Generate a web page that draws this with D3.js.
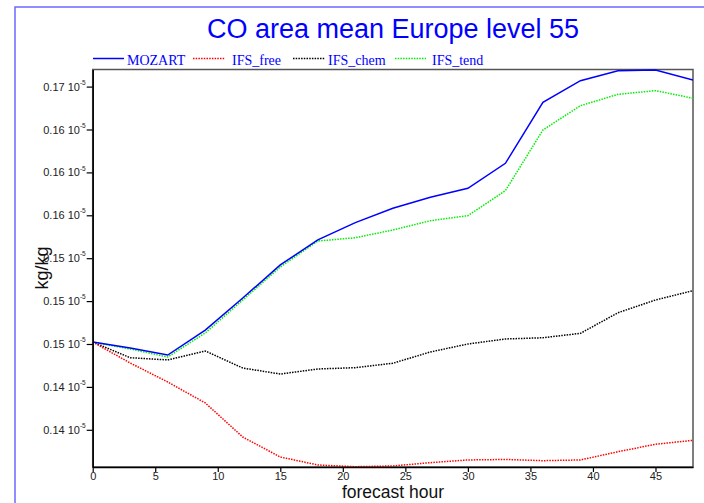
<!DOCTYPE html>
<html>
<head>
<meta charset="utf-8">
<script src="https://cdn.jsdelivr.net/npm/d3@7"></script>
<style>
  body { margin: 0; background: #fff; }
  svg { display: block; }
</style>
</head>
<body>
<svg id="chart" width="704" height="503"></svg>
<script>
// ---- data (values in units of 10^-5 kg/kg) ----
const hours = [0, 3, 6, 9, 12, 15, 18, 21, 24, 27, 30, 33, 36, 39, 42, 45, 48];
const seriesNames = ["MOZART", "IFS_free", "IFS_chem", "IFS_tend"];
const mozart   = [0.14716, 0.14667, 0.14610, 0.14814, 0.15075, 0.15345, 0.15549, 0.15690, 0.15807, 0.15897, 0.15970, 0.16174, 0.16672, 0.16848, 0.16930, 0.16936, 0.16854];
const ifsFree  = [0.14716, 0.14545, 0.14390, 0.14219, 0.13941, 0.13778, 0.13713, 0.13699, 0.13705, 0.13732, 0.13754, 0.13758, 0.13748, 0.13754, 0.13821, 0.13882, 0.13914];
const ifsChem  = [0.14716, 0.14588, 0.14570, 0.14643, 0.14504, 0.14455, 0.14496, 0.14507, 0.14543, 0.14635, 0.14700, 0.14741, 0.14751, 0.14787, 0.14955, 0.15059, 0.15135];
const ifsTend  = [0.14716, 0.14659, 0.14594, 0.14790, 0.15059, 0.15328, 0.15540, 0.15567, 0.15630, 0.15706, 0.15747, 0.15951, 0.16446, 0.16644, 0.16737, 0.16767, 0.16705];
const xTickValues = [0, 5, 10, 15, 20, 25, 30, 35, 40, 45];
const yTickValues = [0.1400, 0.1435, 0.1470, 0.1505, 0.1540, 0.1575, 0.1610, 0.1645, 0.1680];
const yTickLabels = ["0.14", "0.14", "0.15", "0.15", "0.15", "0.16", "0.16", "0.16", "0.17"];
const yExponent = "-5";
const titleText = "CO area mean Europe level 55";
const xTitle = "forecast hour";
const yTitle = "kg/kg";

// ---- layout / style ----
const plot = { left: 92.7, right: 693, top: 69.5, bottom: 467 };
const styles = {
  MOZART:   { color: "#0000ff", dash: null,  width: 1.5 },
  IFS_free: { color: "#ff0000", dash: "1.5,1.2", width: 1.5 },
  IFS_chem: { color: "#000000", dash: "1.5,1.2", width: 1.5 },
  IFS_tend: { color: "#00ee00", dash: "1.5,1.2", width: 1.5 }
};
const legendPos = [
  { x1: 93,  x2: 124, tx: 127 },
  { x1: 193, x2: 225, tx: 232 },
  { x1: 293, x2: 325, tx: 328 },
  { x1: 395, x2: 426, tx: 432 }
];

const svg = d3.select("#chart");
const valuesBySeries = [mozart, ifsFree, ifsChem, ifsTend];

const x = d3.scaleLinear().domain([0, 48]).range([plot.left, plot.right]);
const y = d3.scaleLinear().domain([0.136965, 0.169395]).range([plot.bottom, plot.top]);

// outer blue border
svg.append("rect")
  .attr("x", 15).attr("y", 7)
  .attr("width", 720).attr("height", 520)
  .attr("fill", "none")
  .attr("stroke", "#6a6aff")
  .attr("stroke-width", 1.5);

// title
svg.append("text")
  .attr("x", 393).attr("y", 38)
  .attr("text-anchor", "middle")
  .attr("font-family", "Liberation Sans, Arial, sans-serif")
  .attr("font-size", 27)
  .attr("fill", "#0000ff")
  .text(titleText);

// legend
seriesNames.forEach((name, i) => {
  const s = styles[name], p = legendPos[i];
  svg.append("line")
    .attr("x1", p.x1).attr("x2", p.x2)
    .attr("y1", 58.5).attr("y2", 58.5)
    .attr("stroke", s.color)
    .attr("stroke-width", s.width)
    .attr("stroke-dasharray", s.dash);
  svg.append("text")
    .attr("x", p.tx).attr("y", 64.5)
    .attr("font-family", "Liberation Serif, Times New Roman, serif")
    .attr("font-size", 14)
    .attr("fill", "#0000ff")
    .text(name);
});

// plot frame
svg.append("rect")
  .attr("x", plot.left).attr("y", plot.top)
  .attr("width", plot.right - plot.left)
  .attr("height", plot.bottom - plot.top)
  .attr("fill", "none")
  .attr("stroke", "#555")
  .attr("stroke-width", 1.5);

// clip
svg.append("clipPath").attr("id", "clip")
  .append("rect")
  .attr("x", plot.left).attr("y", plot.top - 1)
  .attr("width", plot.right - plot.left)
  .attr("height", plot.bottom - plot.top + 1);

// lines
const lineGen = d3.line().x((d, i) => x(hours[i])).y(d => y(d));
const linesG = svg.append("g").attr("clip-path", "url(#clip)");
// draw order: chem, free, tend, mozart
[2, 1, 3, 0].forEach(i => {
  const s = styles[seriesNames[i]];
  linesG.append("path")
    .datum(valuesBySeries[i])
    .attr("d", lineGen)
    .attr("fill", "none")
    .attr("stroke", s.color)
    .attr("stroke-width", s.width)
    .attr("stroke-dasharray", s.dash);
});

// x axis
const xAxis = svg.append("g")
  .attr("transform", `translate(0,${plot.bottom})`)
  .call(d3.axisBottom(x).tickValues(xTickValues).tickSize(5).tickPadding(0).tickSizeOuter(0));
xAxis.select(".domain").attr("stroke", "#000").attr("stroke-width", 1.5);
xAxis.selectAll(".tick line").attr("stroke", "#000").attr("stroke-width", 1.2);
xAxis.selectAll(".tick text")
  .attr("font-family", "Liberation Sans, Arial, sans-serif")
  .attr("font-size", 11)
  .attr("fill", "#222");

// y axis
const yAxis = svg.append("g")
  .attr("transform", `translate(${plot.left},0)`)
  .call(d3.axisLeft(y).tickValues(yTickValues).tickSize(6).tickPadding(1).tickSizeOuter(0)
    .tickFormat((d, i) => yTickLabels[i]));
yAxis.select(".domain").attr("stroke", "#000").attr("stroke-width", 1.5);
yAxis.selectAll(".tick line").attr("stroke", "#000").attr("stroke-width", 1.2);
yAxis.selectAll(".tick text")
  .attr("font-family", "Liberation Sans, Arial, sans-serif")
  .attr("font-size", 11)
  .attr("fill", "#222")
  .each(function (d, i) {
    const t = d3.select(this);
    t.text(null);
    t.append("tspan").text(yTickLabels[i] + " 10");
    t.append("tspan")
      .attr("font-size", 6.5)
      .attr("dy", "-0.9em")
      .text(yExponent);
  });

// axis titles
svg.append("text")
  .attr("x", 393).attr("y", 498)
  .attr("text-anchor", "middle")
  .attr("font-family", "Liberation Sans, Arial, sans-serif")
  .attr("font-size", 17.5)
  .attr("fill", "#111")
  .text(xTitle);

svg.append("text")
  .attr("transform", "translate(48,268) rotate(-90)")
  .attr("text-anchor", "middle")
  .attr("font-family", "Liberation Sans, Arial, sans-serif")
  .attr("font-size", 18)
  .attr("fill", "#111")
  .text(yTitle);
</script>
</body>
</html>
